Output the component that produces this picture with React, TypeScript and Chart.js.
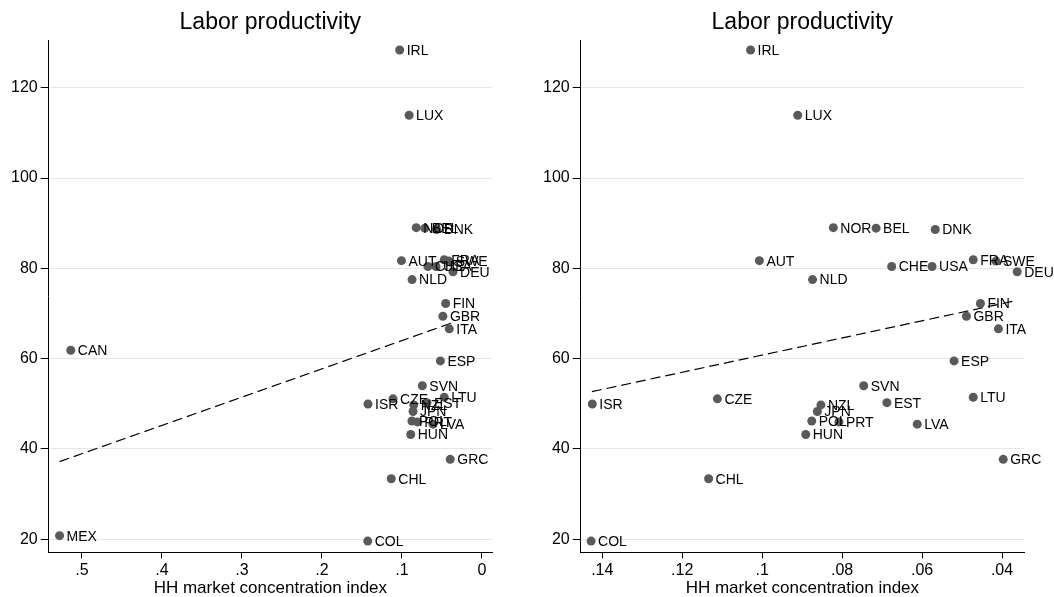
import React, { useEffect, useRef } from 'react';
import { Chart, registerables } from 'chart.js';
Chart.register(...registerables);

const countries = ['IRL','LUX','NOR','BEL','DNK','AUT','CHE','USA','FRA','SWE','DEU','NLD','FIN','GBR','ITA','ESP','SVN','LTU','EST','CZE','NZL','JPN','POL','PRT','LVA','HUN','ISR','GRC','CHL','COL','CAN','MEX'];
const hhIndex = [0.1029,0.0911,0.0822,0.0715,0.0567,0.1007,0.0676,0.0575,0.0472,0.0415,0.0362,0.0874,0.0454,0.0489,0.0409,0.052,0.0746,0.0472,0.0688,0.1112,0.0853,0.0862,0.0876,0.0808,0.0612,0.0891,0.1425,0.0397,0.1134,0.1428,0.514,0.528];
const productivity = [128.35,113.9,89.0,88.9,88.6,81.7,80.4,80.4,81.9,81.6,79.25,77.5,72.2,69.4,66.6,59.5,54.0,51.45,50.25,51.1,49.75,48.3,46.2,46.0,45.5,43.2,49.95,37.7,33.4,19.6,61.85,20.8];

const leftFitX = [0.528, 0.0362];
const leftFitY = [37.2, 68.0];
const rightFitX = [0.1426, 0.0362];
const rightFitY = [52.7, 72.9];

const yTicks = [20, 40, 60, 80, 100, 120];
const yTickLabels = ['20', '40', '60', '80', '100', '120'];
const leftXTicks = [0.5, 0.4, 0.3, 0.2, 0.1, 0];
const leftXTickLabels = ['.5', '.4', '.3', '.2', '.1', '0'];
const rightXTicks = [0.14, 0.12, 0.1, 0.08, 0.06, 0.04];
const rightXTickLabels = ['.14', '.12', '.1', '.08', '.06', '.04'];

const titleText = 'Labor productivity';
const xTitleText = 'HH market concentration index';
const FONT = '"Liberation Sans", Arial, Helvetica, sans-serif';

type PanelCfg = {
  xMin: number; xMax: number; xTicks: number[]; xTickLabels: string[];
  fitX: number[]; fitY: number[]; yAxisWidth: number; padRight: number;
};

const leftPanel: PanelCfg = {
  xMin: -0.0125, xMax: 0.5416, xTicks: leftXTicks, xTickLabels: leftXTickLabels,
  fitX: leftFitX, fitY: leftFitY, yAxisWidth: 48.7, padRight: 35,
};
const rightPanel: PanelCfg = {
  xMin: 0.0345, xMax: 0.1454, xTicks: rightXTicks, xTickLabels: rightXTickLabels,
  fitX: rightFitX, fitY: rightFitY, yAxisWidth: 53.7, padRight: 30,
};

const labelPlugin = {
  id: 'pointNames',
  afterDatasetsDraw(chart: any) {
    const meta = chart.getDatasetMeta(0);
    const names: string[] = chart.data.datasets[0].names || [];
    const ctx = chart.ctx;
    ctx.save();
    ctx.font = `14px ${FONT}`;
    ctx.fillStyle = '#000';
    ctx.textBaseline = 'middle';
    ctx.textAlign = 'left';
    meta.data.forEach((pt: any, i: number) => {
      ctx.fillText(names[i], pt.x + 7, pt.y + 1);
    });
    ctx.restore();
  },
};

function makeConfig(p: PanelCfg): any {
  const pts = countries
    .map((c, i) => ({ x: hhIndex[i], y: productivity[i], name: c }))
    .filter((d) => d.x <= p.xMax && d.x >= p.xMin);
  return {
    type: 'scatter',
    data: {
      datasets: [
        {
          data: pts.map((d) => ({ x: d.x, y: d.y })),
          names: pts.map((d) => d.name),
          pointRadius: 4.5,
          pointHoverRadius: 4.5,
          backgroundColor: '#5a5a5a',
          borderWidth: 0,
        },
        {
          type: 'line',
          data: p.fitX.map((x, i) => ({ x, y: p.fitY[i] })),
          borderColor: '#000',
          borderWidth: 1.2,
          borderDash: [10, 5],
          pointRadius: 0,
          fill: false,
          tension: 0,
        },
      ],
    },
    options: {
      responsive: false,
      animation: false,
      events: [],
      layout: { padding: { left: 0, right: p.padRight, top: 0, bottom: 0 } },
      plugins: {
        legend: { display: false },
        tooltip: { enabled: false },
        title: {
          display: true,
          text: titleText,
          fullSize: false,
          color: '#000',
          font: { family: FONT, size: 23, weight: 'normal', lineHeight: 1.2 },
          padding: { top: 9, bottom: 3.4 },
        },
      },
      scales: {
        x: {
          type: 'linear',
          reverse: true,
          min: p.xMin,
          max: p.xMax,
          afterBuildTicks: (s: any) => { s.ticks = p.xTicks.map((v) => ({ value: v })); },
          afterFit: (s: any) => { s.height = 44.7; },
          ticks: {
            autoSkip: false,
            maxRotation: 0,
            padding: 3,
            color: '#000',
            font: { family: FONT, size: 16 },
            callback: (_v: any, i: number) => p.xTickLabels[i],
          },
          grid: { drawOnChartArea: false, drawTicks: true, tickLength: 6, tickColor: '#000', tickWidth: 1 },
          border: { display: true, color: '#000', width: 1 },
          title: {
            display: true,
            text: xTitleText,
            color: '#000',
            font: { family: FONT, size: 17, lineHeight: 1 },
            padding: { top: 0, bottom: 0.5 },
          },
        },
        y: {
          type: 'linear',
          min: 17.12,
          max: 130.56,
          afterBuildTicks: (s: any) => { s.ticks = yTicks.map((v) => ({ value: v })); },
          afterFit: (s: any) => { s.width = p.yAxisWidth; },
          ticks: {
            autoSkip: false,
            padding: 3,
            color: '#000',
            font: { family: FONT, size: 16 },
            callback: (_v: any, i: number) => yTickLabels[i],
          },
          grid: { color: '#e6e6e6', lineWidth: 1, tickLength: 8, tickColor: '#000', tickWidth: 1 },
          border: { display: true, color: '#000', width: 1 },
        },
      },
    },
    plugins: [labelPlugin],
  };
}

function Panel({ cfg }: { cfg: PanelCfg }) {
  const ref = useRef<HTMLCanvasElement>(null);
  useEffect(() => {
    const chart = new Chart(ref.current as HTMLCanvasElement, makeConfig(cfg));
    return () => chart.destroy();
  }, [cfg]);
  return <canvas ref={ref} width={527} height={597} style={{ display: 'block', width: 527, height: 597 }} />;
}

export default function App() {
  return (
    <div style={{ position: 'fixed', top: 0, left: 0, width: 1054, height: 597, background: '#fff' }}>
      <div style={{ position: 'absolute', left: 0, top: 0, width: 527, height: 597 }}>
        <Panel cfg={leftPanel} />
      </div>
      <div style={{ position: 'absolute', left: 527, top: 0, width: 527, height: 597 }}>
        <Panel cfg={rightPanel} />
      </div>
    </div>
  );
}
